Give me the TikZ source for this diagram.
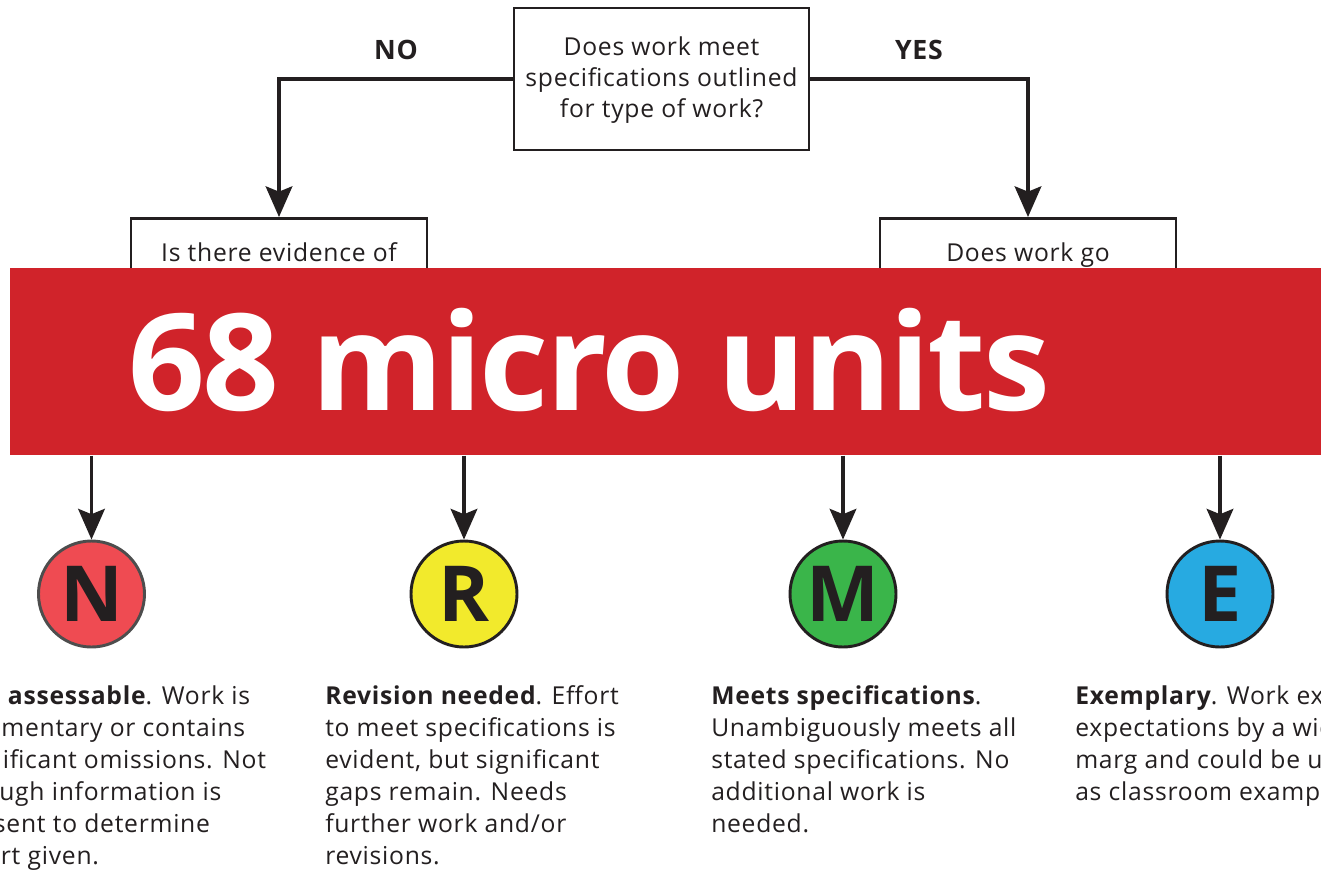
\documentclass[tikz,border=0pt]{standalone}
\usepackage{fontspec}
\setmainfont{Open Sans}[LetterSpace=3]
\newfontfamily\bannerfont{Open Sans}[LetterSpace=-2]
\usetikzlibrary{arrows.meta}
\definecolor{ink}{HTML}{231F20}
\definecolor{bannerred}{HTML}{D0232A}
\definecolor{nred}{HTML}{EF4B52}
\definecolor{ryellow}{HTML}{F2EA2C}
\definecolor{mgreen}{HTML}{3AB54A}
\definecolor{eblue}{HTML}{27AAE1}
\definecolor{ngrey}{HTML}{4D4D4D}
\tikzset{
  qbox/.style={draw=ink, line width=2pt, inner sep=0pt},
  qtext/.style={text=ink, align=center, inner sep=0pt, font=\fontsize{18.5}{23.25}\selectfont},
  arr/.style={draw=ink, line width=2.4pt, -{Stealth[length=23pt, width=20pt, inset=4pt]}},
  grade/.style={circle, minimum size=79.5pt, inner sep=0pt, line width=2.2pt, draw=ink,
    font=\fontsize{58}{58}\selectfont\bfseries, text=ink},
  desc/.style={anchor=north west, align=left, inner sep=0pt, text=ink,
    font=\fontsize{18.5}{24}\selectfont},
  yesno/.style={text=ink, inner sep=0pt, font=\fontsize{20}{22}\selectfont\bfseries}
}
\begin{document}
\begin{tikzpicture}[x=0.75pt,y=-0.75pt]
\useasboundingbox (0,0) rectangle (1321,869);
\fill[white] (0,0) rectangle (1321,869);
\clip (0,0) rectangle (1321,869);

% top question
\node[qbox, minimum width=221.25pt, minimum height=106.5pt] (q) at (661.5,79) {};
\node[qtext, anchor=north] (qt) at (661.5,36) {Does work meet\\specifications outlined\\for type of work?};

% second level boxes (partly hidden by banner)
\node[qbox, anchor=north, minimum width=222pt, minimum height=170pt] (qno) at (279,217) {};
\node[qtext, anchor=north] (qnot) at (279,242) {Is there evidence of};
\node[qbox, anchor=north, minimum width=222pt, minimum height=170pt] (qyes) at (1028,217) {};
\node[qtext, anchor=north] (qyest) at (1028,242) {Does work go};

% labels
\node[yesno] (no) at (396,50) {NO};
\node[yesno] (yes) at (919,50) {YES};

% connectors
\draw[arr] (q.west) -| (qno.north);
\draw[arr] (q.east) -| (qyes.north);

% grade circles
\node[grade, fill=nred, draw=ngrey] (N) at (91.5,594) {N};
\node[grade, fill=ryellow] (R) at (464,594) {R};
\node[grade, fill=mgreen] (M) at (843,594) {M};
\node[grade, fill=eblue] (E) at (1220,594) {E};

% banner
\node[fill=bannerred, anchor=north west, minimum width=983.25pt, minimum height=140.25pt, inner sep=0pt] (banner) at (10,268) {};
\node[anchor=base west, inner sep=0pt, text=white, font=\fontsize{101}{101}\selectfont\bannerfont\bfseries] (btext) at (128,410) {68 micro units};

\draw[arr] (banner.south -| N.north) -- (N.north);
\draw[arr] (banner.south -| R.north) -- (R.north);
\draw[arr] (banner.south -| M.north) -- (M.north);
\draw[arr] (banner.south -| E.north) -- (E.north);

% descriptions
\node[desc] (dN) at (-47,685) {\textbf{Not assessable}. Work is\\fragmentary or contains\\significant omissions. Not\\enough information is\\present to determine\\effort given.};
\node[desc] (dR) at (325,685) {\textbf{Revision needed}. Effort\\to meet specifications is\\evident, but significant\\gaps remain. Needs\\further work and/or\\revisions.};
\node[desc] (dM) at (711,685) {\textbf{Meets specifications}.\\Unambiguously meets all\\stated specifications. No\\additional work is\\needed.};
\node[desc] (dE) at (1075,685) {\textbf{Exemplary}. Work exceeds\\expectations by a wide\\marg and could be used\\as classroom example.};
\end{tikzpicture}
\end{document}
